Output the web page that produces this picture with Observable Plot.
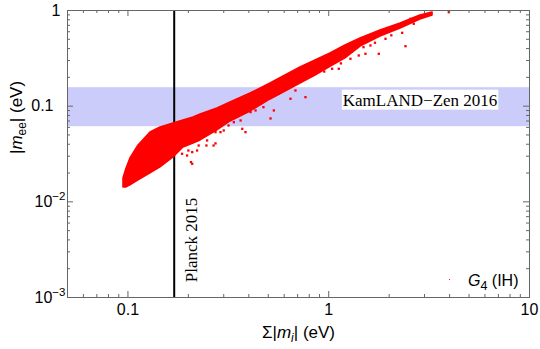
<!DOCTYPE html>
<html><head><meta charset="utf-8">
<script src="https://cdn.jsdelivr.net/npm/d3@7"></script>
<script src="https://cdn.jsdelivr.net/npm/@observablehq/plot@0.6"></script>
<style>html,body{margin:0;padding:0;background:#fff} svg{display:block}</style>
</head><body><div id="chart"></div>
<script>
// ---- axes / ticks ----
const xTicks = [0.1, 1, 10];
const xTickLabels = ["0.1", "1", "10"];
const xMinorTicks = [0.05,0.06,0.07,0.08,0.09,0.2,0.3,0.4,0.5,0.6,0.7,0.8,0.9,2,3,4,5,6,7,8,9];
const yTicks = [0.001, 0.01, 0.1, 1];
const yTickLabels = ["10^−3", "10^−2", "0.1", "1"];
const yMinorTicks = [0.002,0.003,0.004,0.005,0.006,0.007,0.008,0.009,0.02,0.03,0.04,0.05,0.06,0.07,0.08,0.09,0.2,0.3,0.4,0.5,0.6,0.7,0.8,0.9];
const xTitle = "Σ|m_i| (eV)";
const yTitle = "|m_ee| (eV)";

// ---- reference bounds ----
const kamlandBand = [0.061, 0.156];   // |m_ee| range (eV)
const kamlandLabel = "KamLAND−Zen 2016";
const planckBound = 0.17;             // Σ|m_i| (eV)
const planckLabel = "Planck 2015";
const caseLabel = "G_4 (IH)";

// ---- dense region of the scatter ----
const denseSum  = [0.095,0.0984,0.1029,0.1129,0.1295,0.1452,0.1686,0.189,0.212,0.230,0.279,0.324,0.408,0.513,0.609,0.723,0.859,1.020,1.212,1.44,1.81,2.28,2.86,3.29];
const denseHigh = [0.01756,0.02234,0.02841,0.03884,0.05311,0.05989,0.06595,0.07089,0.07617,0.08187,0.09462,0.1093,0.1357,0.1727,0.2093,0.2538,0.3002,0.3554,0.4308,0.5097,0.618,0.7313,0.8866,0.953];
const denseLow  = [0.01414,0.01414,0.01484,0.01674,0.0198,0.02288,0.02911,0.03702,0.04076,0.04381,0.05573,0.0692,0.088,0.1175,0.1424,0.1727,0.2083,0.258,0.316,0.42,0.535,0.648,0.805,0.887];

// ---- scattered points outside the dense region ----
const scatterSum = [0.186,0.200,0.209,0.209,0.197,0.221,0.225,0.246,0.248,0.267,0.273,0.289,0.317,0.385,0.364,0.473,0.513,0.457,0.408,0.371,0.337,0.300,0.645,0.766,0.683,0.827,1.040,1.122,1.283,1.411,1.776,2.412,2.322,1.918,1.614,1.490,1.524,1.236,1.388,1.554,2.652,2.554,3.963,0.533,0.564,0.432,0.206,0.273,0.243,1.30,1.70,2.05,0.95,1.15];
const scatterMee = [0.0318,0.0344,0.0331,0.0250,0.0305,0.0344,0.0388,0.0388,0.0438,0.0388,0.0535,0.0535,0.0628,0.0535,0.0709,0.0976,0.0744,0.1060,0.0866,0.0580,0.0680,0.0557,0.1195,0.1242,0.1459,0.2093,0.2459,0.2459,0.3129,0.3387,0.3527,0.4236,0.5848,0.5062,0.4308,0.4136,0.3527,0.3979,0.4136,0.4859,0.7261,0.819,0.960,0.0902,0.1348,0.0902,0.0260,0.0408,0.0515,0.37,0.46,0.55,0.23,0.28];

const dense = denseSum.map((x, i) => ({x, lo: denseLow[i], hi: denseHigh[i]}));
const scatter = scatterSum.map((x, i) => ({x, y: scatterMee[i]}));

const W = 540, H = 349, mL = 67, mR = 11, mT = 10, mB = 52;
const pw = W - mL - mR, ph = H - mT - mB;
const frameColor = "#666";
const sans = "'Liberation Sans', Arial, sans-serif";
const serif = "'Liberation Serif', 'Times New Roman', serif";

function yLabelMark(filterFn, dx) {
  return Plot.text(yTicks, {filter: (d, i) => filterFn(yTickLabels[i]), y: d => d, frameAnchor: "left",
    text: d => yTickLabels[yTicks.indexOf(d)], textAnchor: "end", dx, fontSize: 16, fill: "black", fontFamily: sans});
}

const chart = Plot.plot({
  width: W, height: H,
  marginLeft: mL, marginRight: mR, marginTop: mT, marginBottom: mB,
  style: {fontFamily: sans, background: "white", overflow: "visible"},
  x: {type: "log", domain: [0.05, 10], axis: null},
  y: {type: "log", domain: [0.001, 1], axis: null},
  marks: [
    Plot.rect([kamlandBand], {x1: 0.05, x2: 10, y1: d => d[0], y2: d => d[1], fill: "#ccccfa"}),
    Plot.ruleX([planckBound], {stroke: "black", strokeWidth: 2}),
    Plot.areaY(dense, {x: "x", y1: "lo", y2: "hi", fill: "red", stroke: "red", strokeWidth: 1.5}),
    Plot.dot(scatter, {x: "x", y: "y", symbol: "square", r: 1.3, fill: "red"}),
    // frame and ticks (inward, all four sides)
    Plot.frame({stroke: frameColor}),
    Plot.tickX(xTicks, {x: d => d, insetTop: ph - 6, stroke: frameColor}),
    Plot.tickX(xTicks, {x: d => d, insetBottom: ph - 6, stroke: frameColor}),
    Plot.tickX(xMinorTicks, {x: d => d, insetTop: ph - 3, stroke: frameColor}),
    Plot.tickX(xMinorTicks, {x: d => d, insetBottom: ph - 3, stroke: frameColor}),
    Plot.tickY(yTicks, {y: d => d, insetRight: pw - 6, stroke: frameColor}),
    Plot.tickY(yTicks, {y: d => d, insetLeft: pw - 6, stroke: frameColor}),
    Plot.tickY(yMinorTicks, {y: d => d, insetRight: pw - 3, stroke: frameColor}),
    Plot.tickY(yMinorTicks, {y: d => d, insetLeft: pw - 3, stroke: frameColor}),
    // tick labels
    Plot.text(xTicks, {x: d => d, frameAnchor: "bottom", text: (d, i) => xTickLabels[i], lineAnchor: "top", dy: 6, fontSize: 16, fill: "black", fontFamily: sans}),
    yLabelMark(s => s.includes("^"), -2),
    yLabelMark(s => s === "0.1", -14),
    yLabelMark(s => s === "1", -7),
    // axis titles
    Plot.text([xTitle], {frameAnchor: "bottom", dy: 40, lineAnchor: "bottom", text: d => d, fontSize: 17, fill: "black", fontFamily: sans}),
    Plot.text([yTitle], {frameAnchor: "left", dx: -51, rotate: -90, lineAnchor: "middle", text: d => d, fontSize: 17, fill: "black", fontFamily: sans}),
    // annotations
    Plot.text([planckLabel], {x: planckBound, y: 0.004, dx: 17, rotate: -90, text: d => d, fontSize: 17, fontFamily: serif, fill: "black"}),
    Plot.text([kamlandLabel], {x: 2.85, y: Math.sqrt(kamlandBand[0] * kamlandBand[1]), dy: -7, text: d => d, fontSize: 17, fontFamily: serif, fill: "black"}),
    Plot.dot([caseLabel], {frameAnchor: "bottom-right", dx: -80, dy: -18, r: 0.6, fill: "red"}),
    Plot.text([caseLabel], {frameAnchor: "bottom-right", dx: -11, dy: -12, textAnchor: "end", lineAnchor: "bottom", text: d => d, fontSize: 16, fill: "black", fontFamily: sans})
  ]
});
document.getElementById("chart").appendChild(chart);

// ---- rich text post-processing (italic, sub/superscripts, label box) ----
const NS = "http://www.w3.org/2000/svg";
function rich(el, parts) {
  el.textContent = "";
  let shift = 0;
  for (const p of parts) {
    const ts = document.createElementNS(NS, "tspan");
    ts.textContent = p.t;
    if (p.italic) ts.setAttribute("font-style", "italic");
    const target = p.sub ? 4 : p.sup ? -7 : 0;
    if (target !== shift) { ts.setAttribute("dy", target - shift); shift = target; }
    if (p.sub || p.sup) ts.setAttribute("font-size", p.size || "70%");
    el.appendChild(ts);
  }
}
for (const el of chart.querySelectorAll("text")) {
  const s = el.textContent;
  if (s.includes("^")) {
    const [base, exp] = s.split("^");
    rich(el, [{t: base}, {t: exp, sup: true, size: "72%"}]);
  } else if (s === xTitle) {
    rich(el, [{t: "Σ|"}, {t: "m", italic: true}, {t: "i", italic: true, sub: true}, {t: "| (eV)"}]);
  } else if (s === yTitle) {
    rich(el, [{t: "|"}, {t: "m", italic: true}, {t: "ee", sub: true}, {t: "| (eV)"}]);
  } else if (s === caseLabel) {
    rich(el, [{t: "G", italic: true}, {t: "4", sub: true, size: "78%"}, {t: " (IH)"}]);
  } else if (s === kamlandLabel) {
    const b = el.getBBox();
    const r = document.createElementNS(NS, "rect");
    r.setAttribute("x", b.x - 1); r.setAttribute("y", b.y - 1);
    r.setAttribute("width", b.width + 2); r.setAttribute("height", b.height + 1);
    r.setAttribute("fill", "white");
    const tr = el.getAttribute("transform");
    if (tr) r.setAttribute("transform", tr);
    el.parentNode.insertBefore(r, el);
  }
}
</script>
</body></html>
